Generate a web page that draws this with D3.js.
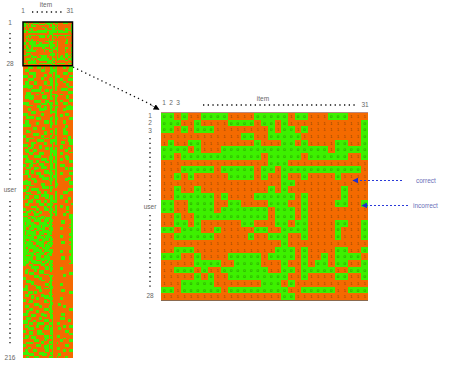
<!DOCTYPE html>
<html><head><meta charset="utf-8">
<script src="https://cdn.jsdelivr.net/npm/d3@7"></script>
<style>html,body{margin:0;padding:0;background:#fff}svg{display:block}text{font-family:"Liberation Sans",Arial,sans-serif}</style>
</head><body><div id="c"></div>
<script>
// '1' = incorrect response (green), '0' = correct response (orange)
const topRows = [
"1101001111000011111011000111000",
"1110010000111101101000000000001",
"1101011100000000101101000000001",
"0000000000001100111110000000001",
"0100110000000010001101000011001",
"1111010001111111111111111011111",
"1101111111111110111110111111001",
"0000000000000000111000000000000",
"0001111101111101101111111111110",
"0010100000111101001001000010000",
"0000000000000000001100000000000",
"0010010000000000101000000001000",
"0011111101000011111101000001000",
"1100111100110000111001000011001",
"1100111101111111011101000000000",
"0010011111111111011101000000000",
"0011010000001100011011000011001",
"1101110010000011001111000010001",
"0011111100000100111001000010001",
"0000000000000000001000000000000",
"0011100000000000011101000011001",
"1110010000111110111101001011110",
"0000011110011110001001011011001",
"0011101001111111001101111100111",
"0000010100111111111001000011001",
"0001111100000001110100000000000",
"1101111110111111111001111100111",
"0000000000000000001100000000000"];
const restRows = [
"0001110001100100010010000110011","0001110001100100011010000110011","0111000000011100011110000000111","0111000000011100011110000000111",
"0000111100000000111010000111000","0000111100000110001010000111000","1110001100000110001011100000011","1110001100011000010011100000000",
"0001111000011000111010011000111","0001111000000000111010011000111","0111000110000110011010000110000","0111000110000110011011000001100",
"1111110000000001111011000001100","1111110000110000001010000000111","0001100000110000001010001111000","0000011111100011011010001111000",
"0000011111100011010000000000111","0011100000011000010000000000111","0011100011000000011110011000000","0111111000001110010011000001100",
"0111111000001110011010000001100","0000110000000000011010000000011","0000000111100011000010011000011","1111000111100011111011000111000",
"1111000000011110111011000111000","0011110001100000010000000000110","0000000001100110011011000001111","0001100000111110010010000111111",
"0001100000111100010010000110000","0000011100000000011110000000000","1110011100011000010010000011100","1110000000011000000010011011100",
"0011111000000000001010011000000","0011111011100000011011000000011","0000000011100000011011000000011","0111000000000111010010000110000",
"0111000011000111011010000110000","1111100011000000011010000000000","1111100000000000010000000011000","0000001110001100010000000011000",
"0000001110001100000010000110000","0011000000000000011010000110000","0011100000000110011010000111000","0000001111000110001010000111000",
"1100001111011000011000000000000","1100000000011000010010000000110","0011111000000111000010000110110",
"0011000001111000011110000000111","0011000001111000011110001100111","0000011100000110011010001100011","1110011000000110001010000000011",
"1110011000110000001000011000000","0001110000110011011010011000110","0111001110000011011010000011110","0111001110000000011110000011000",
"0011111000111000011110011000011","0000110000111000010110011000000","1110000111100000010110000011000","1110000111100000111010000011100",
"0011000000011110111010011001100","0111110011011110010110011000011","0111110011000011010110000000011","0000011100111000011010000000000",
"1100110000111000011010011100000","1100110000011110011010011100000","0011100111011110011010000011011","0000000110000000011110000011011",
"0111011000000111010010000000000","0111011011100111111010011000011","1111000011100000111010011000011","0001100000111000010110000000000",
"0001100000111111010110000000110","0000011100001111011010000011110","0110000110000000111010000011000","1111100110000000010010000000011",
"1111100000011100010011000000011","0000111000011100000011000000000","0011000000001111011010000000000","0011011111001111011000000000111",
"1110011111000000010000000000111","1100000001100110010010000111100","0011100001100110000010000111000","0000110000011111000010000000000",
"0111000111011111011010011000000","0111000111000011011010011000110","1100011000000000111010000000110","0001110011100110011110000011000",
"0001110011100110010110000011000","0111000000111001111000000000001","0111000000111001111010011000000","0000011110000110010010011001100",
"1100000011000111011010000001100","1100111011000111011010000000000","0011101100110000110110000001100","1110000111110000010010000110000",
"1110000111000000011010000110011","0001111000011100010000000000011",
"1110011101111011110000000000011","1111100111100111011000000000001","1111100111100111011000001100001","1011111000111110110000001100001",
"1011111100111111111000000000011","1111011111101111010000000000001","1100111111101100111000011000011","1100111001111100111000011000001",
"1111100111001111011000000000001","1011111100111111110000000000001","1011111100111001110000000000011","1110011111100111100000011000011",
"1111111001111011110000011000001","1111111001111111011000000000011","1100111111001111011000000000011","1111100111111100110000001100001",
"1011110011111001111000001100001","1111110011111011011000000000011","1111111100111011110000000000001","1101111111001111100000000000001",
"1111001111110111011000000000001","1111001111110111111000011000011","1110111100111100111000011000011","1111111011111001110000000000001",
"1100011111100111010000000000001","1111110011100111100000001100011","1111110011111111100000001100011","1011111100011101111000000000001",
"1111011111110011011000000000001","1110001111111110110000000000011","1100110000011100111000000000000","0000011111000111010000000000000",
"0000011111000011011000011000000","0011000110000011011000011000000","0110000110111000010000000000000","0110111000111000000000000000011",
"0000111000000111000000000110011","0000000111000000111000000110000","1100000111110000010000000000000","1100000000110000010000000000000",
"0011100000011100011000000000000","0011111000000000110000000000000","0000011000000011010000011000000","0110000110000011010000011000000",
"0110000011100000111000000000000",
"1110000011100111011000000000000","1110000000110000010000001100000","0001110110110000010000001100011","0001110110000000110000000000011",
"0111000000011000011000000000000","0111011000011111010000000000000","0000011011000111111000011000000","1100000011000000111000011000000",
"1100110000000110010000000000000","0001110000000111011000000000000","0000000111000000011000110000000","0111000111110000110000110110000",
"0111000000110000110000000110000","0000110000000111010000000000011","0011110011000111011000000000011","0011000011000000111000000000000",
"1110000000011000010000001100000","1110011100011110011000001100000","0000011100000110011000000000000","0011100000110000011000011100000",
"0011100000110111001000011100110","1110001100000111001000000000110","1110110001111000111001100000000","0000110001111000111001100000000",
"0111000011000011001000000110011","0111111011000111011000110110011","0001111000000111011000110000000","1100000001110000011000000011100",
"1100110001110000011000000011100","0000110001111000011000000000011","0111000000000111001001100000000","0111011100000111011001100000000",
"1110011100000011011000000110000","0000000111000110001000011000011","0000000111011000111000011000011","0011110000011000111001000000000",
"1100000011100001001000000011100","1100000011100111011000000011100","0001100000000111011001100000000","0110001110000011001001100110011",
"0110001110000011001000000110011","1111000000111000011000000000000","1111111000111110011000110000000","0000111000001110001000110000000",
"0011000111000000111001000011000"
];
const itemLabels = ["1","2","3","31"];
const userLabels = ["1","2","3","28","216"];
const colors = {incorrect:"#3cf000", correct:"#f46a00"};

const W=449,H=368;
const svg=d3.select("#c").append("svg").attr("width",W).attr("height",H);
const nCols=31, allRows=topRows.concat(restRows);
const defs=svg.append("defs");
defs.append("filter").attr("id","soft").attr("x",0).attr("y",0).attr("width",1).attr("height",1)
  .append("feGaussianBlur").attr("stdDeviation",0.35);
defs.append("filter").attr("id","soft2").attr("x",0).attr("y",0).attr("width",1).attr("height",1)
  .append("feGaussianBlur").attr("stdDeviation",0.25);

// ---- overview strip
const xMini=d3.scaleBand().domain(d3.range(nCols)).range([23,72.5]);
const yMini=d3.scaleBand().domain(d3.range(allRows.length)).range([22,358]);
const cellsMini=[];
allRows.forEach((r,i)=>{for(let j=0;j<nCols;j++)cellsMini.push({i,j,v:r[j]==="1"});});
const gm=svg.append("g").attr("shape-rendering","crispEdges").attr("filter","url(#soft)");
gm.selectAll("rect").data(cellsMini).join("rect")
  .attr("x",d=>xMini(d.j)).attr("y",d=>yMini(d.i))
  .attr("width",xMini.bandwidth()+.4).attr("height",yMini.bandwidth()+.4)
  .attr("fill",d=>d.v?colors.incorrect:colors.correct);
svg.append("rect").attr("x",xMini.range()[0]).attr("y",yMini.range()[0])
  .attr("width",xMini.range()[1]-xMini.range()[0]).attr("height",yMini(28)-yMini(0))
  .attr("fill","none").attr("stroke","#000").attr("stroke-width",1.5);

// ---- magnified block
const xBig=d3.scaleBand().domain(d3.range(nCols)).range([161,368]);
const yBig=d3.scaleBand().domain(d3.range(topRows.length)).range([113,300]);
const cellsBig=[];
topRows.forEach((r,i)=>{for(let j=0;j<nCols;j++)cellsBig.push({i,j,v:r[j]==="1"});});
const gb=svg.append("g");
gb.append("g").attr("shape-rendering","crispEdges").attr("filter","url(#soft2)").selectAll("rect").data(cellsBig).join("rect")
  .attr("x",d=>xBig(d.j)).attr("y",d=>yBig(d.i))
  .attr("width",xBig.bandwidth()+.4).attr("height",yBig.bandwidth()+.4)
  .attr("fill",d=>d.v?colors.incorrect:colors.correct);
gb.append("g").selectAll("text").data(cellsBig).join("text")
  .attr("x",d=>xBig(d.j)+xBig.bandwidth()/2).attr("y",d=>yBig(d.i)+yBig.bandwidth()/2+1.6)
  .attr("text-anchor","middle").attr("font-size",4.4)
  .attr("fill",d=>d.v?"#1f7a08":"#8a4208")
  .text(d=>d.v?"0":"1");
svg.append("line").attr("x1",161).attr("x2",368).attr("y1",112.5).attr("y2",112.5).attr("stroke","#b98a80");
svg.append("line").attr("x1",161).attr("x2",368).attr("y1",300.5).attr("y2",300.5).attr("stroke","#8a6a50");

// ---- labels
const label=(x,y,t,anchor,fill,size)=>svg.append("text").attr("x",x).attr("y",y).attr("text-anchor",anchor||"middle")
  .attr("font-size",size||6.5).attr("fill",fill||"#666").text(t);
const dots=(x1,y1,x2,y2,w,gap,c)=>svg.append("line").attr("x1",x1).attr("y1",y1).attr("x2",x2).attr("y2",y2)
  .attr("stroke",c||"#111").attr("stroke-width",w||1.3).attr("stroke-dasharray",`${w||1.3},${gap||3.4}`);

label(46,7,"item");
label(23,13,itemLabels[0]); label(70,13,itemLabels[3]);
dots(32,12,62,12);
label(10,25,userLabels[0]); label(10,66,userLabels[3]); label(10,360,userLabels[4]);
dots(10,33,10,54);
label(10,192,"user");
dots(10,75,10,182); dots(10,201,10,345);

label(263,101,"item");
label(164,105,itemLabels[0]); label(171,105,itemLabels[1]); label(178,105,itemLabels[2]); label(365,107,itemLabels[3]);
dots(203,105,355,105);
label(150,118,userLabels[0]); label(150,125,userLabels[1]); label(150,133,userLabels[2]); label(150,298,userLabels[3]);
dots(150,138,150,200); dots(150,215,150,290);
label(150,209,"user");

// ---- connector
const marker=(id,c,s)=>defs.append("marker").attr("id",id).attr("viewBox","0 0 10 10").attr("refX",9).attr("refY",5)
  .attr("markerWidth",s).attr("markerHeight",s).attr("markerUnits","userSpaceOnUse").attr("orient","auto")
  .append("path").attr("d","M0,0L10,5L0,10Z").attr("fill",c);
marker("ab","#000",6); marker("ac","#1f2fd0",6);
dots(73,67,152,105,1.3,3.2);
svg.append("line").attr("x1",150).attr("y1",104.5).attr("x2",159).attr("y2",109.5).attr("stroke","#000").attr("stroke-width",.5).attr("marker-end","url(#ab)");

// ---- callouts
svg.append("line").attr("x1",402).attr("x2",353).attr("y1",180.5).attr("y2",180.5).attr("stroke","#2a3ad8").attr("stroke-dasharray","2,2").attr("marker-end","url(#ac)");
svg.append("line").attr("x1",408).attr("x2",362).attr("y1",205.5).attr("y2",205.5).attr("stroke","#2a3ad8").attr("stroke-dasharray","2,2").attr("marker-end","url(#ac)");
label(416,183,"correct","start","#6a70b8",6.5);
label(413,208,"incorrect","start","#6a70b8",6.5);
</script></body></html>
